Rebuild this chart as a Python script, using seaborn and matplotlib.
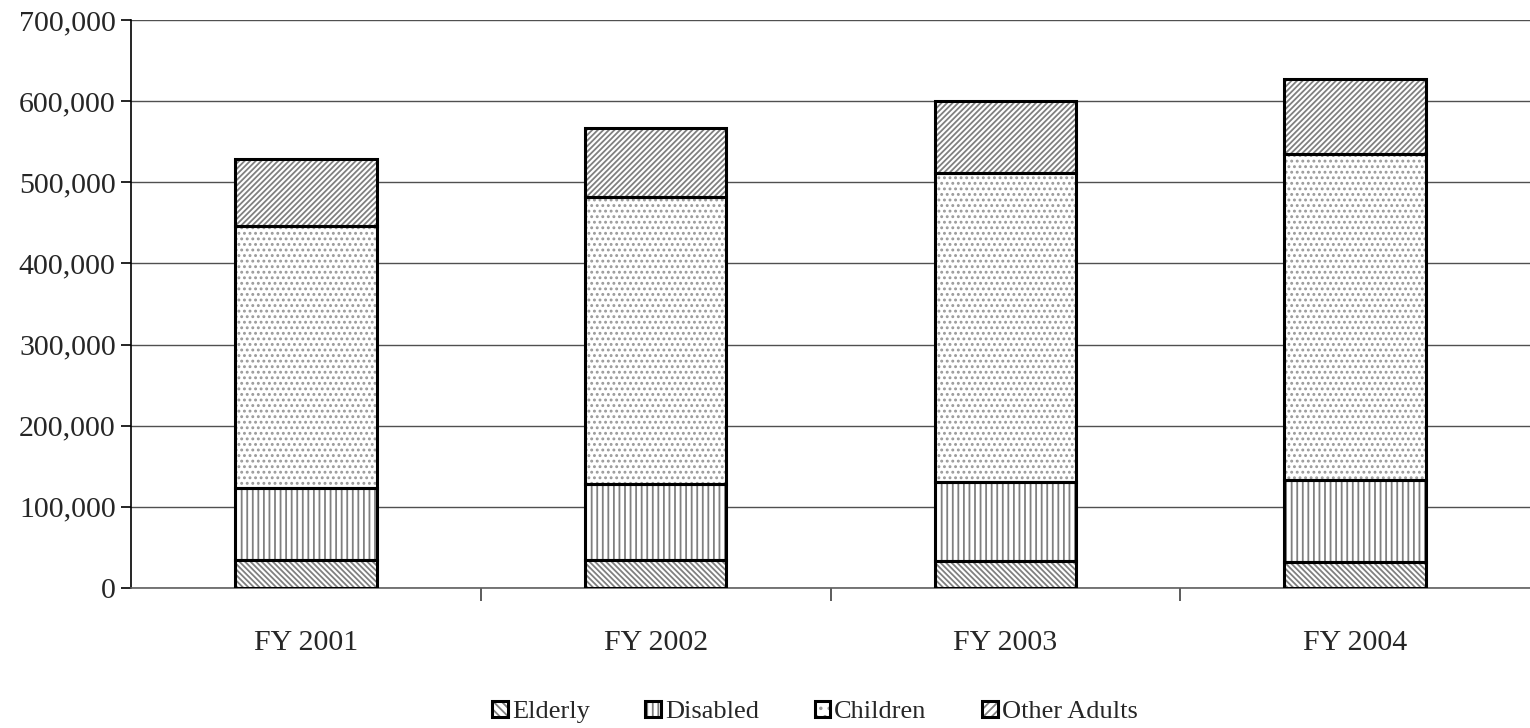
import matplotlib
matplotlib.use("Agg")
import matplotlib.pyplot as plt
import seaborn as sns
import numpy as np
import pandas as pd
from matplotlib.patches import Patch
from matplotlib.legend_handler import HandlerTuple
from matplotlib.ticker import FuncFormatter, MultipleLocator

years = ["FY 2001", "FY 2002", "FY 2003", "FY 2004"]
groups = ["Elderly", "Disabled", "Children", "Other Adults"]
elderly = [34000, 34000, 33000, 32000]
disabled = [89000, 94000, 98000, 101000]
children = [323000, 354000, 380000, 402000]
other_adults = [83000, 85000, 89000, 92000]

hatches = ["\\" * 6, "|||", "...", "/" * 6]
hatch_colors = ["#808080", "#808080", "#9a9a9a", "#808080"]
series = [elderly, disabled, children, other_adults]

sns.set_style("white")
plt.rcParams["font.family"] = ["Liberation Serif", "DejaVu Serif"]
plt.rcParams["hatch.linewidth"] = 1.3

fig = plt.figure(figsize=(15.3, 7.28), dpi=100)
ax = fig.add_axes([131 / 1530, 1 - 588 / 728, 1 - 131 / 1530, (588 - 20) / 728])

bottom = np.zeros(len(years))
for name, vals, h, hc in zip(groups, series, hatches, hatch_colors):
    df = pd.DataFrame({"year": years, "value": vals})
    # hatched fill in gray
    sns.barplot(data=df, x="year", y="value", ax=ax, bottom=bottom, width=0.405,
                color="white", edgecolor=hc, linewidth=0, hatch=h,
                errorbar=None, saturation=1, zorder=2)
    # black outline on top
    sns.barplot(data=df, x="year", y="value", ax=ax, bottom=bottom, width=0.405,
                color="black", fill=False, edgecolor="black", linewidth=2.2,
                errorbar=None, saturation=1, zorder=3)
    bottom = bottom + np.array(vals)

ax.set_xlim(-0.5, 3.5)
ax.set_ylim(0, 700000)
ax.yaxis.set_major_locator(MultipleLocator(100000))
ax.yaxis.set_major_formatter(FuncFormatter(lambda v, p: f"{int(v):,}"))
ax.grid(axis="y", color="#505050", linewidth=1.0, zorder=0)
ax.set_axisbelow(True)

for s in ["top", "right"]:
    ax.spines[s].set_visible(False)
ax.spines["left"].set_color("black")
ax.spines["left"].set_linewidth(1.2)
ax.spines["bottom"].set_color("#606060")
ax.spines["bottom"].set_linewidth(1.2)

ax.set_xlabel("")
ax.set_ylabel("")
ax.tick_params(axis="y", which="major", direction="out", length=7, width=1.2,
               left=True, labelsize=21.5, pad=4, color="black")
ax.tick_params(axis="x", which="major", length=0, labelsize=21.5, pad=30)
ax.set_xticks([0.5, 1.5, 2.5], minor=True)
ax.tick_params(axis="x", which="minor", direction="out", length=9, width=1.2,
               bottom=True, color="#404040")

legend_hatches = ["\\" * 4, "|||", "..", "/" * 4]
handles = [(Patch(facecolor="white", edgecolor=hc, hatch=h, linewidth=0),
            Patch(facecolor="none", edgecolor="black", linewidth=2.2))
           for h, hc in zip(legend_hatches, hatch_colors)]
fig.legend(handles=handles, labels=groups, loc="center",
           bbox_to_anchor=(815 / 1530, 1 - 712 / 728),
           handler_map={tuple: HandlerTuple(ndivide=1)},
           ncol=4, frameon=False, fontsize=19, handlelength=0.6, handleheight=0.6,
           handletextpad=0.15, columnspacing=2.1, borderaxespad=0)

fig.savefig("out.png", dpi=100)
